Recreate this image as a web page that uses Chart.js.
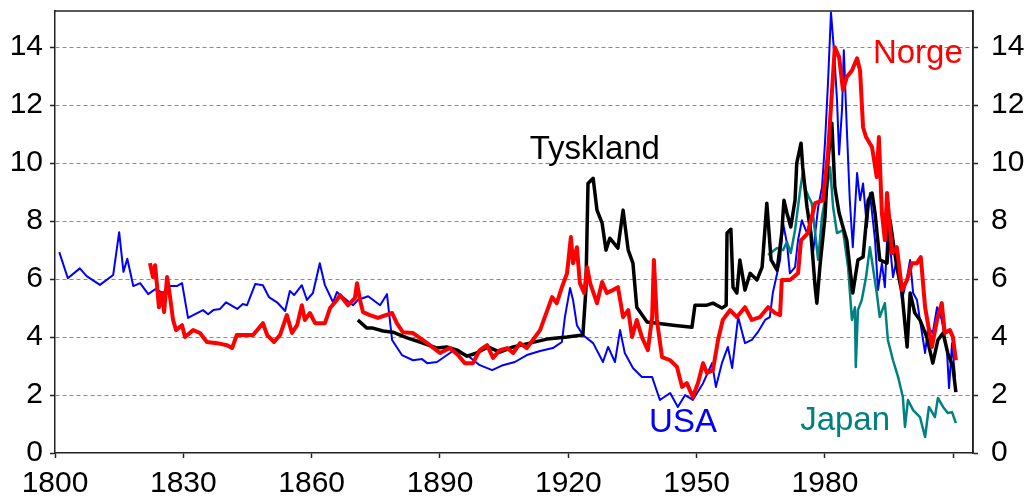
<!DOCTYPE html>
<html>
<head>
<meta charset="utf-8">
<script src="https://cdn.jsdelivr.net/npm/chart.js@4"></script>
<style>
  body { margin: 0; background: #fff; }
  #wrap { width: 1029px; height: 500px; }
</style>
</head>
<body>
<div id="wrap"><canvas id="renteChart"></canvas></div>
<script>
// x-axis ticks (every 30 years, last one without label)
var Ticks_X = [1800, 1830, 1860, 1890, 1920, 1950, 1980, 2010];
var Ticks_Y = [0, 2, 4, 6, 8, 10, 12, 14];

// USA
var USA_Years = [1801,1803,1805.8,1807.4,1810.5,1813.6,1815,1816,1816.9,1818.3,1819.9,1821.8,1823.4,1825.2,1827,1828.5,1829.7,1831.1,1832.3,1834.6,1835.8,1837,1838.6,1840,1842.6,1843.9,1844.9,1846.8,1848.6,1850,1851.9,1853.8,1854.9,1855.9,1857.7,1858.9,1860.3,1861.9,1863.1,1865,1865.9,1867.3,1869.7,1870.8,1873.2,1876,1877.6,1878.8,1881.1,1883.7,1885.8,1887,1889.3,1893,1896.3,1899.3,1902.2,1904.7,1907.5,1910.3,1913.4,1916.4,1918.5,1919.2,1920.4,1921.1,1922,1923.4,1925.8,1928.1,1929.3,1930.9,1932.1,1933.2,1935.1,1937.2,1939.6,1941.4,1943.8,1945.6,1947.3,1949.1,1951.5,1953.6,1954.5,1955.9,1957.3,1958.3,1959.7,1961.3,1962.9,1964.3,1966,1967.1,1967.8,1969.5,1970.2,1971.1,1971.8,1973,1973.7,1974.6,1975.8,1976.5,1977.2,1978.4,1979.3,1980,1980.7,1981.4,1982.1,1982.8,1983.3,1984,1984.4,1985.1,1985.8,1986.5,1987.5,1988.2,1988.9,1989.8,1990.5,1991.7,1992.4,1993.3,1994,1994.7,1995.9,1997.1,1998,1999.2,1999.9,2000.6,2001.5,2002.2,2003.4,2004.1,2005.2,2006.2,2007.3,2008.5,2009,2009.7,2010.4];
var USA = [6.93,6.03,6.37,6.1,5.8,6.14,7.62,6.25,6.7,5.76,5.86,5.48,5.65,5.52,5.76,5.76,5.86,4.66,4.76,4.93,4.79,4.93,4.97,5.2,4.97,5.14,5.1,5.83,5.79,5.38,5.2,4.9,5.59,5.45,5.79,5.28,5.52,6.55,5.79,5.2,5.55,5.38,5.1,5.28,5.41,5.1,5.48,3.9,3.38,3.2,3.24,3.1,3.14,3.52,3.38,3.03,2.86,3.03,3.14,3.38,3.52,3.62,3.83,4.69,5.69,5.28,4.41,4.07,3.79,3.14,3.66,3.14,4.24,3.45,2.93,2.62,2.62,1.83,2.07,1.59,2.0,1.83,2.41,3.1,2.28,3.1,3.66,2.93,4.69,3.79,3.9,4.17,4.59,4.69,5.52,6.66,7.93,7.24,6.2,6.41,7.34,8.03,7.59,8.03,6.9,8.48,9.17,10.7,12.76,15.2,13.9,12.2,10.3,11.9,13.9,11.2,8.72,7.1,9.66,8.72,9.3,7.8,8.97,7.34,5.62,6.55,5.72,7.93,6.07,6.9,5.28,6.07,6.66,5.52,5.28,4.59,3.45,4.34,4.14,5.03,4.59,3.55,2.24,3.79,2.62];

// Norge
var Norge_Years = [1822.2,1822.9,1823.4,1823.8,1824.3,1825,1825.5,1826.2,1826.9,1827.6,1828.3,1829.7,1830.4,1832.3,1833.9,1835.5,1837.9,1840.2,1841.4,1842.5,1846.3,1848.6,1849.6,1851.2,1852.6,1854.2,1855.4,1856.6,1857.7,1858.4,1859.6,1860.8,1863.1,1864.3,1865.9,1866.6,1868.5,1870.1,1870.6,1871.3,1872,1873.6,1875.5,1878.8,1879.9,1881.3,1883.7,1887,1890,1892.3,1894.2,1895.8,1897.7,1899.3,1901,1902.4,1904,1905.7,1907.1,1908.7,1910.3,1911.7,1913.4,1914.5,1916.2,1917.3,1918.5,1919.7,1920.6,1921.1,1922,1922.7,1923.7,1924.4,1925.1,1926.7,1927.9,1929,1930.4,1931.6,1932.8,1934,1934.9,1936,1937.2,1938.6,1939.6,1940,1940.7,1941.9,1943.8,1945.4,1946.6,1947.7,1949.1,1950.3,1951.5,1952.4,1953.8,1955,1956.1,1957.8,1959.4,1961.3,1962.9,1964.8,1966.7,1968.3,1969.5,1969.9,1971.8,1973.7,1974.4,1976,1977.7,1979.5,1980.7,1981.6,1982.3,1983.3,1984.2,1985.1,1986.3,1987.5,1988.2,1988.9,1989.6,1991,1992.1,1992.6,1993.3,1994,1994.5,1995.7,1996.8,1998,1999.2,2000.3,2001.5,2002.4,2003.4,2005,2006.2,2007.3,2008,2009.2,2009.9,2010.6];
var Norge = [6.55,6.07,6.48,5.86,5.03,5.52,4.86,6.07,5.38,4.59,4.24,4.41,4.0,4.24,4.14,3.83,3.79,3.72,3.62,4.07,4.07,4.48,4.07,3.83,4.07,4.76,4.14,4.41,5.1,4.59,4.83,4.48,4.48,5.0,5.28,5.45,5.1,5.34,5.86,5.28,4.86,4.76,4.66,4.83,4.48,4.17,4.14,3.79,3.45,3.62,3.38,3.1,3.1,3.55,3.72,3.28,3.55,3.62,3.45,3.79,3.62,3.9,4.24,4.69,5.38,5.17,5.72,6.2,7.45,6.55,7.1,5.86,5.52,6.41,5.86,5.17,5.9,5.52,5.62,5.72,4.69,4.93,4.0,4.59,4.0,3.55,4.69,6.66,4.59,3.31,3.2,2.97,2.28,2.41,1.93,2.41,3.1,2.76,2.86,3.9,4.59,4.93,4.69,5.03,4.59,4.69,5.03,4.83,4.76,5.97,5.97,6.2,7.34,7.59,8.62,8.72,10.34,12.41,14.0,13.66,12.52,12.97,13.2,13.62,13.2,11.24,10.9,10.55,9.52,10.9,8.28,7.34,8.97,6.9,7.1,5.62,5.97,6.55,6.55,6.76,5.03,3.66,4.59,5.17,4.14,4.24,4.0,3.2];

// Tyskland
var Tyskland_Years = [1870.8,1872.9,1874.3,1876.7,1879,1882.3,1885.3,1889.3,1891.6,1894,1896.3,1898.6,1901.2,1904,1907.1,1911,1915,1919.7,1923.4,1924.1,1924.6,1925.8,1926.7,1927.9,1928.8,1929.7,1931.6,1932.8,1934,1935.1,1936,1938.4,1944.5,1948.9,1949.6,1952.4,1953.8,1955.9,1956.9,1957.1,1958,1958.5,1959.4,1960.1,1961.3,1962.5,1964.1,1965.3,1966,1966.4,1967.4,1968.8,1969.9,1970.4,1971.1,1972,1973,1973.4,1974.4,1974.8,1975.8,1976.7,1977.7,1978.1,1978.8,1980,1980.7,1981.6,1982.3,1983.3,1984.2,1985.1,1985.8,1986.5,1987.7,1988.9,1990.1,1991,1991.7,1992.8,1994.5,1995.2,1996.8,1998,1999.2,1999.9,2001,2002.2,2003.8,2005.2,2006.4,2007.6,2008.7,2009.9,2010.6];
var Tyskland = [4.59,4.31,4.31,4.21,4.17,3.97,3.83,3.62,3.66,3.55,3.34,3.45,3.66,3.48,3.66,3.79,3.93,4.0,4.07,5.62,9.3,9.48,8.38,7.93,7.0,7.41,7.07,8.38,7.0,6.55,5.03,4.52,4.41,4.34,5.1,5.1,5.17,5.0,5.1,7.59,7.72,5.72,5.52,6.66,5.62,6.2,5.97,6.41,7.8,8.62,6.66,6.31,7.59,8.72,8.28,7.8,8.72,10.0,10.69,9.86,8.48,7.59,5.72,5.17,6.41,8.14,10.1,11.38,9.17,8.28,7.8,7.34,6.41,5.52,6.66,6.76,8.72,8.97,8.28,6.66,6.55,8.03,6.41,5.52,3.66,5.52,4.83,4.59,4.0,3.1,3.9,4.14,3.45,2.97,2.1];

// Japan
var Japan_Years = [1966.7,1968.8,1970.2,1971.1,1972,1973,1974.2,1974.8,1975.5,1976.2,1976.9,1977.7,1978.4,1979.3,1980.5,1981.2,1981.9,1982.8,1984.2,1985.4,1986.3,1987,1987.2,1987.7,1988.6,1989.6,1990.5,1991.2,1992.1,1992.8,1994,1994.7,1995.9,1997.1,1998.2,1998.7,1999.4,2000.6,2002.2,2003.4,2004.3,2005.7,2006.4,2007.6,2008.7,2009.7,2010.6];
var Japan = [6.83,7.07,7.0,7.28,6.9,7.69,9.07,9.66,9.07,8.83,8.62,7.59,6.66,8.14,9.17,9.86,8.48,7.59,7.69,6.41,4.59,5.03,2.97,4.93,5.28,6.07,7.1,6.41,5.52,4.69,5.17,3.9,3.2,2.62,1.93,0.9,1.83,1.48,1.24,0.55,1.59,1.24,1.9,1.59,1.38,1.41,1.03];

// Series names written inside the chart
var Labels = ["Norge", "Tyskland", "USA", "Japan"];
var Label_X = [2001.7, 1926.2, 1946.8, 1984.7];
var Label_Y = [13.45, 10.15, 0.72, 0.79];
var Label_Colors = ["#FF0000", "#000000", "#0000FF", "#008080"];

function points(xs, ys) {
  return xs.map(function (x, i) { return { x: x, y: ys[i] }; });
}

Chart.defaults.font.family = "'Liberation Sans', Arial, sans-serif";
Chart.defaults.color = "#000";

var frame = {
  id: 'frame',
  afterDatasetsDraw: function (chart) {
    var a = chart.chartArea, c = chart.ctx;
    c.save();
    c.strokeStyle = '#222';
    c.lineWidth = 1.5;
    c.beginPath();
    c.moveTo(a.left, a.top);
    c.lineTo(a.right, a.top);
    c.lineTo(a.right, a.bottom);
    c.stroke();
    c.font = "33px 'Liberation Sans', Arial, sans-serif";
    c.textAlign = 'center';
    c.textBaseline = 'alphabetic';
    for (var i = 0; i < Labels.length; i++) {
      c.fillStyle = Label_Colors[i];
      c.fillText(Labels[i], chart.scales.x.getPixelForValue(Label_X[i]), chart.scales.y.getPixelForValue(Label_Y[i]));
    }
    c.restore();
  }
};

function yTicks(scale) {
  scale.ticks = Ticks_Y.map(function (v) { return { value: v }; });
}

var ctx = document.getElementById("renteChart");
var RenteChart = new Chart(ctx, {
  type: 'line',
  data: {
    datasets: [
      { label: "Norge", data: points(Norge_Years, Norge), borderColor: "#FF0000", borderWidth: 4 },
      { label: "Tyskland", data: points(Tyskland_Years, Tyskland), borderColor: "#000000", borderWidth: 3.5 },
      { label: "Japan", data: points(Japan_Years, Japan), borderColor: "#008080", borderWidth: 2.5 },
      { label: "USA", data: points(USA_Years, USA), borderColor: "#0000FF", borderWidth: 2 }
    ]
  },
  options: {
    responsive: true,
    maintainAspectRatio: false,
    animation: false,
    layout: { padding: { top: 11, left: 0, right: 0, bottom: 0 } },
    elements: { point: { radius: 0 }, line: { tension: 0, fill: false, borderJoinStyle: 'round' } },
    plugins: { legend: { display: false }, tooltip: { enabled: false } },
    scales: {
      x: {
        type: 'linear',
        min: 1800,
        max: 2014.6,
        afterBuildTicks: function (scale) {
          scale.ticks = Ticks_X.map(function (v) { return { value: v }; });
        },
        afterFit: function (scale) {
          scale.height = 47;
          scale.paddingLeft = 0;
          scale.paddingRight = 0;
        },
        ticks: {
          font: { size: 30 },
          padding: 8,
          maxRotation: 0,
          autoSkip: false,
          callback: function (v) { return v === 2010 ? '' : String(v); }
        },
        grid: { drawOnChartArea: false, tickLength: 5, tickColor: '#222', tickWidth: 1.5 },
        border: { color: '#222', width: 1.5 }
      },
      y: {
        position: 'left',
        min: 0,
        max: 15.25,
        afterBuildTicks: yTicks,
        afterFit: function (scale) {
          scale.width = 55;
          scale.paddingTop = 0;
          scale.paddingBottom = 0;
        },
        ticks: { font: { size: 30 }, padding: 7 },
        grid: {
          color: function (c) { return c.tick && c.tick.value === 0 ? 'rgba(0,0,0,0)' : '#8c8c8c'; },
          lineWidth: 1,
          tickLength: 5,
          tickColor: '#222',
          tickWidth: 1.5,
          tickBorderDash: []
        },
        border: { color: '#222', width: 1.5, dash: [4, 3] }
      },
      y2: {
        position: 'right',
        min: 0,
        max: 15.25,
        afterBuildTicks: yTicks,
        afterFit: function (scale) {
          scale.width = 56;
          scale.paddingTop = 0;
          scale.paddingBottom = 0;
        },
        ticks: { font: { size: 30 }, padding: 13 },
        grid: { drawOnChartArea: false, tickLength: 5, tickColor: '#222', tickWidth: 1.5 },
        border: { color: '#222', width: 1.5 }
      }
    }
  },
  plugins: [frame]
});
</script>
</body>
</html>
